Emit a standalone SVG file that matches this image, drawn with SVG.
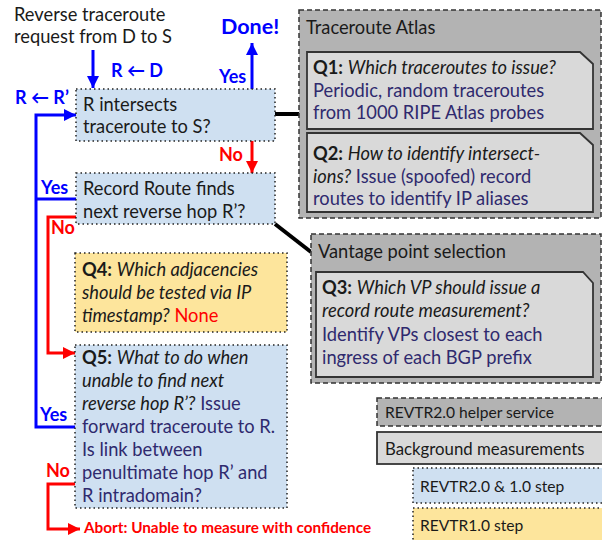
<svg xmlns="http://www.w3.org/2000/svg" width="602" height="540" viewBox="0 0 602 540">
<defs>
<marker id="ab" viewBox="0 0 10 10" refX="10" refY="5" markerWidth="4" markerHeight="4" orient="auto" markerUnits="strokeWidth"><path d="M0,0 L10,5 L0,10 z" fill="#0000ff"/></marker>
<marker id="ar" viewBox="0 0 10 10" refX="10" refY="5" markerWidth="4" markerHeight="4" orient="auto" markerUnits="strokeWidth"><path d="M0,0 L10,5 L0,10 z" fill="#ff0000"/></marker>
</defs>
<style>
text{font-family:Lato,"Liberation Sans",sans-serif;font-size:18.3px;fill:#1a1a1a}
.step{fill:#cfe0f1;stroke:#222;stroke-width:1.5;stroke-dasharray:1.5 3}
.v1{fill:#fde59c;stroke:#222;stroke-width:1.5;stroke-dasharray:1.5 3}
.svc{fill:#b3b3b3;stroke:#333;stroke-width:1.5;stroke-dasharray:5 3}
.bg{fill:#d9d9d9;stroke:#333;stroke-width:1.8}
.b{font-weight:bold}
.i{font-style:italic}
.ans{fill:#2f2a6e}
.blue{fill:#0000ff;font-weight:bold;font-size:18px}
.red{fill:#ff0000;font-weight:bold;font-size:18px}
.cb{fill:none;stroke:#0000ff;stroke-width:3}
.cr{fill:none;stroke:#ff0000;stroke-width:3}
.ck{fill:none;stroke:#000;stroke-width:4}
.lg{font-size:15.6px}
</style>

<g id="input">
<text x="14" y="21">Reverse traceroute</text>
<text x="14" y="43">request from D to S</text>
</g>

<g id="done"><text x="221" y="34" class="blue" style="font-size:21.5px">Done!</text></g>

<g id="connectors">
<line x1="93" y1="50" x2="93" y2="88" class="cb" marker-end="url(#ab)"/>
<line x1="252" y1="89" x2="252" y2="43" class="cb" marker-end="url(#ab)"/>
<line x1="252" y1="141" x2="252" y2="173" class="cr" marker-end="url(#ar)"/>
<polyline points="76,427 36,427 36,115 76,115" class="cb" marker-end="url(#ab)"/>
<line x1="36" y1="199" x2="76" y2="199" class="cb"/>
<polyline points="76,217 48,217 48,353 75,353" class="cr" marker-end="url(#ar)"/>
<polyline points="75,484 48,484 48,529 80,529" class="cr" marker-end="url(#ar)"/>
<line x1="275" y1="114" x2="300" y2="114" class="ck"/>
<line x1="275" y1="224" x2="311" y2="252" class="ck"/>
<text x="111" y="77" class="blue">R ← D</text>
<text x="15" y="104" class="blue">R ← R’</text>
<text x="219" y="83" class="blue">Yes</text>
<text x="219" y="161" class="red">No</text>
<text x="41" y="194" class="blue">Yes</text>
<text x="51" y="234" class="red">No</text>
<text x="40" y="421" class="blue">Yes</text>
<text x="46" y="477" class="red">No</text>
</g>

<g id="n1">
<rect x="76" y="89" width="199" height="52" class="step"/>
<text x="83" y="111">R intersects</text>
<text x="83" y="133">traceroute to S?</text>
</g>

<g id="n2">
<rect x="76" y="173" width="199" height="51" class="step"/>
<text x="83" y="195">Record Route finds</text>
<text x="83" y="218">next reverse hop R’?</text>
</g>

<g id="q4">
<rect x="75" y="253" width="212" height="79" class="v1"/>
<text x="82" y="276"><tspan class="b">Q4:</tspan> <tspan class="i">Which adjacencies</tspan></text>
<text x="82" y="299" class="i">should be tested via IP</text>
<text x="82" y="322"><tspan class="i">timestamp?</tspan> <tspan style="fill:#ff0000">None</tspan></text>
</g>

<g id="q5">
<rect x="75" y="345" width="212" height="163" class="step"/>
<text x="82" y="364"><tspan class="b">Q5:</tspan> <tspan class="i">What to do when</tspan></text>
<text x="82" y="387" class="i">unable to find next</text>
<text x="82" y="410"><tspan class="i">reverse hop R’?</tspan> <tspan class="ans">Issue</tspan></text>
<text x="82" y="433" class="ans">forward traceroute to R.</text>
<text x="82" y="456" class="ans">Is link between</text>
<text x="82" y="479" class="ans">penultimate hop R’ and</text>
<text x="82" y="502" class="ans">R intradomain?</text>
</g>

<g id="abort"><text x="84" y="533" class="red" style="font-size:15.3px">Abort: Unable to measure with confidence</text></g>

<g id="atlas">
<rect x="299" y="10" width="302" height="208" class="svc"/>
<text x="306" y="34">Traceroute Atlas</text>
<path d="M307,52 H580 L593,64 V129 H307 Z" class="bg"/>
<text x="313" y="74"><tspan class="b">Q1:</tspan> <tspan class="i">Which traceroutes to issue?</tspan></text>
<text x="313" y="97" class="ans">Periodic, random traceroutes</text>
<text x="313" y="119" class="ans">from 1000 RIPE Atlas probes</text>
<path d="M307,133 H580 L593,145 V212 H307 Z" class="bg"/>
<text x="313" y="160"><tspan class="b">Q2:</tspan> <tspan class="i">How to identify intersect-</tspan></text>
<text x="313" y="183"><tspan class="i">ions?</tspan> <tspan class="ans">Issue (spoofed) record</tspan></text>
<text x="313" y="205" class="ans">routes to identify IP aliases</text>
</g>

<g id="vp">
<rect x="311" y="234" width="290" height="149" class="svc"/>
<text x="318" y="258">Vantage point selection</text>
<path d="M316,272 H583 L593,283 V377 H316 Z" class="bg"/>
<text x="322" y="294"><tspan class="b">Q3:</tspan> <tspan class="i">Which VP should issue a</tspan></text>
<text x="322" y="317" class="i">record route measurement?</text>
<text x="322" y="341" class="ans">Identify VPs closest to each</text>
<text x="322" y="364" class="ans">ingress of each BGP prefix</text>
</g>

<g id="legend">
<rect x="377" y="398" width="230" height="28" class="svc"/>
<text x="385" y="418" class="lg">REVTR2.0 helper service</text>
<rect x="377" y="432" width="230" height="32" class="bg"/>
<text x="385" y="455" style="font-size:16.8px">Background measurements</text>
<rect x="413" y="468" width="194" height="35" class="step"/>
<text x="420" y="492" class="lg">REVTR2.0 &amp; 1.0 step</text>
<rect x="413" y="508" width="194" height="40" class="v1"/>
<text x="420" y="531" class="lg">REVTR1.0 step</text>
</g>
</svg>
